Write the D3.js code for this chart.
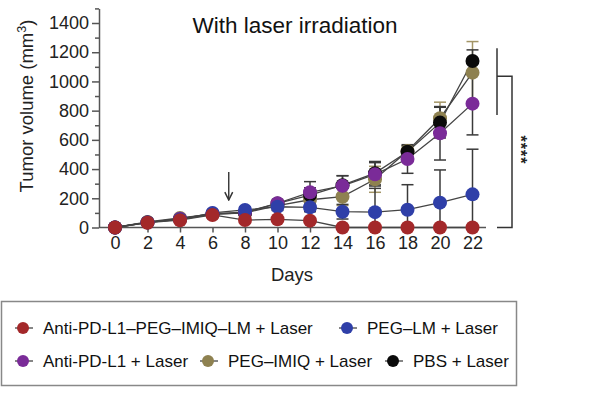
<!DOCTYPE html>
<html>
<head>
<meta charset="utf-8">
<script src="https://cdn.jsdelivr.net/npm/d3@7"></script>
<style>
  body { margin: 0; background: #fff; }
  svg { display: block; font-family: "Liberation Sans", Arial, sans-serif; }
</style>
</head>
<body>
<svg id="chart" width="600" height="395"></svg>
<script>
  // data
  var days = [0, 2, 4, 6, 8, 10, 12, 14, 16, 18, 20, 22]
  var yTicks = [0, 200, 400, 600, 800, 1000, 1200, 1400]
  var seriesNames = ['Anti-PD-L1–PEG–IMIQ–LM + Laser', 'PEG–LM + Laser', 'Anti-PD-L1 + Laser', 'PEG–IMIQ + Laser', 'PBS + Laser']
  var seriesColors = ['#a3282a', '#2f3fa8', '#7a2b98', '#8e8150', '#0a0a0a']

  var redVals    = [0, 33, 50, 86, 51, 56, 47, 0, 0, 0, 0, 0]
  var blueVals   = [0, 35, 55, 100, 120, 142, 138, 108, 105, 122, 170, 227]
  var purpleVals = [0, 35, 60, 95, 105, 166, 241, 285, 364, 469, 645, 848]
  var oliveVals  = [0, 38, 65, 92, 100, 150, 190, 211, 330, 524, 748, 1060]
  var blackVals  = [0, 35, 55, 90, 100, 165, 222, 290, 372, 519, 718, 1140]

  var redErr    = [0, 5, 8, 10, 10, 12, 15, 0, 0, 0, 0, 0]
  var blueErr   = [0, 5, 10, 12, 20, 25, 30, 50, 163, 171, 224, 309]
  var purpleErr = [0, 5, 10, 12, 15, 20, 73, 70, 80, 98, 183, 214]
  var oliveErr  = [0, 5, 10, 10, 15, 20, 40, 60, 89, 36, 110, 213]
  var blackErr  = [0, 5, 10, 10, 15, 20, 50, 64, 80, 40, 105, 76]

  var arrowDay = 7
  var sigLabel = '****'

  var allVals = [redVals, blueVals, purpleVals, oliveVals, blackVals]
  var allErr = [redErr, blueErr, purpleErr, oliveErr, blackErr]
  var drawOrder = [3, 4, 2, 1, 0]

  //
  // Layout
  //
  var svg = d3.select('#chart')
  var axisColor = '#555'
  var textColor = '#222'

  var x = d3.scaleLinear().domain([0, 22]).range([115, 472.5])
  var y = d3.scaleLinear().domain([0, 1500]).range([227.5, 8.4])

  // y axis: labelled majors, minor ticks every 100
  var yAxis = svg.append('g')
    .attr('transform', 'translate(99,0)')
    .call(d3.axisLeft(y).tickValues(yTicks).tickFormat(d3.format('d')).tickSize(7).tickSizeOuter(0).tickPadding(3))
  yAxis.selectAll('text').attr('font-size', 18).attr('fill', textColor)
  yAxis.selectAll('line, path').attr('stroke', axisColor).attr('stroke-width', 1.5)

  var yMinor = svg.append('g')
    .attr('transform', 'translate(99,0)')
    .call(d3.axisLeft(y).tickValues(d3.range(100, 1501, 200)).tickSize(4).tickFormat(''))
  yMinor.select('.domain').remove()
  yMinor.selectAll('line').attr('stroke', axisColor).attr('stroke-width', 1.5)

  // x axis
  var xAxis = svg.append('g')
    .attr('transform', 'translate(0,' + y(0) + ')')
    .call(d3.axisBottom(x).tickValues(days).tickSize(5).tickSizeOuter(0).tickPadding(4))
  xAxis.select('.domain').attr('d', 'M99,0H486')
  xAxis.selectAll('text').attr('font-size', 18).attr('fill', textColor)
  xAxis.selectAll('line, path').attr('stroke', axisColor).attr('stroke-width', 1.5)

  // titles
  svg.append('text')
    .attr('x', 295).attr('y', 33)
    .attr('text-anchor', 'middle')
    .attr('font-size', 22.5)
    .attr('fill', '#111')
    .text('With laser irradiation')

  svg.append('text')
    .attr('x', 292).attr('y', 281)
    .attr('text-anchor', 'middle')
    .attr('font-size', 18.5)
    .attr('fill', textColor)
    .text('Days')

  var yLab = svg.append('text')
    .attr('transform', 'translate(33,106) rotate(-90)')
    .attr('text-anchor', 'middle')
    .attr('font-size', 18.5)
    .attr('fill', textColor)
  yLab.append('tspan').text('Tumor volume (mm')
  yLab.append('tspan').attr('dy', -7).attr('font-size', 12.5).text('3')
  yLab.append('tspan').attr('dy', 7).text(')')

  // treatment arrow
  svg.append('defs').append('marker')
    .attr('id', 'head')
    .attr('viewBox', '0 0 10 10')
    .attr('refX', 9).attr('refY', 5)
    .attr('markerWidth', 7).attr('markerHeight', 7)
    .attr('orient', 'auto')
    .append('path')
    .attr('d', 'M1,1L9,5L1,9')
    .attr('fill', 'none')
    .attr('stroke', '#333')
    .attr('stroke-width', 1.5)

  svg.append('line')
    .attr('x1', x(arrowDay)).attr('x2', x(arrowDay))
    .attr('y1', 172).attr('y2', 200)
    .attr('stroke', '#333').attr('stroke-width', 1.4)
    .attr('marker-end', 'url(#head)')

  //
  // Series
  //
  var line = d3.line()
    .x(function (d, i) { return x(days[i]) })
    .y(function (d) { return y(d) })

  var capW = 6

  drawOrder.forEach(function (s) {
    var vals = allVals[s]
    var errs = allErr[s]
    var barColor = s === 3 ? '#a39566' : '#3a3a3a'
    var g = svg.append('g')

    vals.forEach(function (v, i) {
      if (!errs[i]) return
      var cx = x(days[i])
      var hi = v + errs[i]
      var lo = Math.max(0, v - errs[i])
      g.append('line')
        .attr('x1', cx).attr('x2', cx)
        .attr('y1', y(hi)).attr('y2', y(lo))
        .attr('stroke', barColor).attr('stroke-width', 1.5)
      g.append('line')
        .attr('x1', cx - capW).attr('x2', cx + capW)
        .attr('y1', y(hi)).attr('y2', y(hi))
        .attr('stroke', barColor).attr('stroke-width', 1.5)
      if (v - errs[i] > 0) {
        g.append('line')
          .attr('x1', cx - capW).attr('x2', cx + capW)
          .attr('y1', y(lo)).attr('y2', y(lo))
          .attr('stroke', barColor).attr('stroke-width', 1.5)
      }
    })
  })

  drawOrder.forEach(function (s) {
    svg.append('path')
      .datum(allVals[s])
      .attr('d', line)
      .attr('fill', 'none')
      .attr('stroke', '#444')
      .attr('stroke-width', 1.3)
  })

  drawOrder.forEach(function (s) {
    svg.append('g').selectAll('circle')
      .data(allVals[s])
      .join('circle')
      .attr('cx', function (d, i) { return x(days[i]) })
      .attr('cy', function (d) { return y(d) })
      .attr('r', 7)
      .attr('fill', seriesColors[s])
  })

  // significance bracket
  var sig = svg.append('g').attr('stroke', '#333').attr('stroke-width', 1.5).attr('fill', 'none')
  sig.append('line').attr('x1', 497).attr('x2', 497).attr('y1', y(1228)).attr('y2', y(770))
  sig.append('path').attr('d', 'M497,' + y(1035) + 'H512V' + y(0) + 'H497')
  svg.append('text')
    .attr('transform', 'translate(515,150) rotate(90)')
    .attr('text-anchor', 'middle')
    .attr('font-size', 16)
    .attr('font-weight', 'bold')
    .attr('letter-spacing', 1)
    .attr('fill', '#222')
    .text(sigLabel)

  //
  // Legend
  //
  svg.append('rect')
    .attr('x', 1.5).attr('y', 301.5)
    .attr('width', 515).attr('height', 84)
    .attr('fill', 'none')
    .attr('stroke', '#888').attr('stroke-width', 1.5)

  var legendPos = [[23, 328], [347, 328], [23, 361], [208, 361], [393, 361]]
  seriesNames.forEach(function (name, s) {
    var p = legendPos[s]
    var lg = svg.append('g').attr('transform', 'translate(' + p[0] + ',' + p[1] + ')')
    lg.append('line').attr('x1', -8).attr('x2', 10).attr('stroke', '#444').attr('stroke-width', 1.3)
    lg.append('circle').attr('r', 6).attr('fill', seriesColors[s])
    lg.append('text')
      .attr('x', 20).attr('y', 6)
      .attr('font-size', 17)
      .attr('fill', '#111')
      .text(name)
  })
</script>
</body>
</html>
